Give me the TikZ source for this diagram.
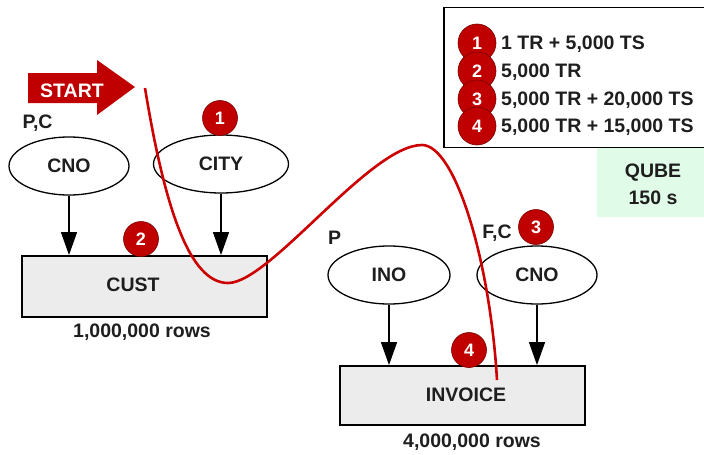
\documentclass[tikz,border=0pt]{standalone}
\usepackage{fontspec}
\setmainfont{Liberation Sans}
\usetikzlibrary{arrows.meta,shapes.geometric}
\definecolor{badgered}{HTML}{C00000}
\definecolor{badgedark}{HTML}{7A0000}
\definecolor{routered}{HTML}{CC0000}
\definecolor{boxgray}{HTML}{ECECEC}
\definecolor{textgray}{HTML}{1E1E1E}
\definecolor{qubegreen}{HTML}{E1FBE9}
\begin{document}
\begin{tikzpicture}[x=1pt,y=-1pt,
  txt/.style={font=\fontsize{19.5}{22}\selectfont\bfseries, text=textgray, inner sep=0pt},
  attr/.style={ellipse, draw=black, line width=1.3pt, minimum height=58pt, inner sep=0pt, txt},
  tbl/.style={rectangle, draw=black, line width=1.8pt, fill=boxgray, minimum width=245pt, inner sep=0pt},
  badge/.style={circle, fill=badgered, draw=badgedark, line width=0.6pt, minimum size=35pt, inner sep=0pt,
    text=white, font=\fontsize{18}{20}\selectfont\bfseries},
  legendbadge/.style={badge, minimum size=38pt},
  link/.style={-{Triangle[length=23pt,width=16pt]}, line width=1.3pt},
  route/.style={draw=routered, line width=2.6pt},
  legendtxt/.style={txt, anchor=west}
]
\useasboundingbox (0,0) rectangle (704,455);
\clip (0,0) rectangle (704,455);

% legend frame (runs past the right edge) and timing box
\draw[line width=1.6pt] (444,7.5) rectangle (712,147.5);
\fill[qubegreen] (597,148) rectangle (712,217);
\node[txt, align=center] (qube) at (653,173) {QUBE};
\node[txt] (qubetime) at (653,198) {150 s};

% legend entries
\node[legendbadge] (l1) at (477,43) {1};
\node[legendbadge] (l2) at (477,71) {2};
\node[legendbadge] (l3) at (477,99) {3};
\node[legendbadge] (l4) at (477,126) {4};
\node[legendtxt] (t1) at (501,44) {1 TR + 5,000 TS};
\node[legendtxt] (t2) at (501,72) {5,000 TR};
\node[legendtxt] (t3) at (501,100) {5,000 TR + 20,000 TS};
\node[legendtxt] (t4) at (501,127) {5,000 TR + 15,000 TS};

% START arrow
\fill[badgered] (28,73) -- (97,73) -- (97,60) -- (135,87) -- (97,115) -- (97,103) -- (28,103) -- cycle;
\node[txt, text=white] (start) at (72,91) {START};

% index ellipses
\node[attr, minimum width=120pt] (cno1) at (69,166) {CNO};
\node[attr, minimum width=135pt] (city) at (221,164) {CITY};
\node[attr, minimum width=122pt] (ino) at (389,275) {INO};
\node[attr, minimum width=120pt] (cno2) at (537,275) {CNO};

% tables
\node[tbl, minimum height=61pt] (cust) at (144.5,286.5) {};
\node[txt] (custname) at (133,285) {CUST};
\node[tbl, minimum height=59pt] (invoice) at (462.5,395.5) {};
\node[txt] (invname) at (466,395) {INVOICE};

\node[txt] (custrows) at (142,332) {1,000,000 rows};
\node[txt] (invrows) at (472,442) {4,000,000 rows};

% column usage labels
\node[txt] (pc) at (37.5,123) {P,C};
\node[txt] (p) at (334.5,238) {P};
\node[txt] (fc) at (497,233) {F,C};

% index-to-table arrows
\draw[link] (cno1.south) -- (cno1.south |- cust.north);
\draw[link] (city.south) -- (city.south |- cust.north);
\draw[link] (ino.south) -- (ino.south |- invoice.north);
\draw[link] (cno2.south) -- (cno2.south |- invoice.north);

% access path
\coordinate (pathstart) at (145,88);
\coordinate (pathend) at (497,380);
\draw[route] (pathstart) .. controls (165,210) and (190,283) .. (228,283)
  .. controls (270,283) and (370,145) .. (422,145)
  .. controls (455,145) and (490,260) .. (pathend);

% step badges
\node[badge] (b1) at (220,118) {1};
\node[badge] (b2) at (141,239) {2};
\node[badge] (b3) at (536,227) {3};
\node[badge] (b4) at (469,350) {4};
\end{tikzpicture}
\end{document}
